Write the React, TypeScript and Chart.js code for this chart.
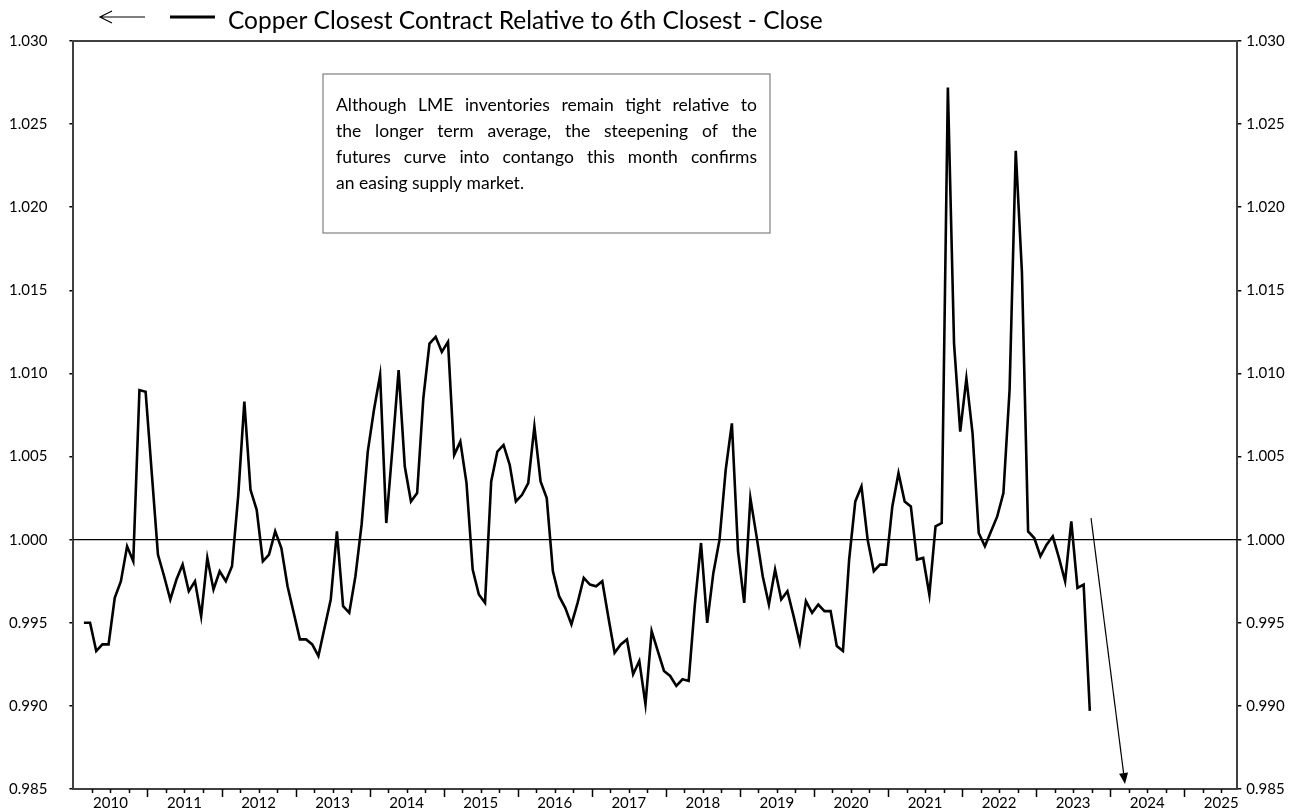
import React, { useEffect, useRef } from "react";
import { Chart, registerables } from "chart.js";

Chart.register(...registerables);

// ---------------- data ----------------
const TITLE = "Copper Closest Contract Relative to 6th Closest - Close";
const YEAR_LABELS = ["2010", "2011", "2012", "2013", "2014", "2015", "2016", "2017", "2018", "2019", "2020", "2021", "2022", "2023", "2024", "2025"];
const Y_TICKS = [0.985, 0.99, 0.995, 1.0, 1.005, 1.01, 1.015, 1.02, 1.025, 1.03];
const FIRST_POINT_MONTH = 1.7; // months after Jan 2010 of the first monthly observation
const AXIS_END_MONTH = 188.6; // months after Jan 2010 where the axis ends
const REFERENCE_LEVEL = 1.0;

// monthly observations, Feb 2010 .. Sep 2023
const COPPER_RATIO = [
  0.9950, 0.9950, 0.9933, 0.9937, 0.9937, 0.9965, 0.9975, 0.9996, 0.9987, 1.0090, 1.0089,
  1.0040, 0.9991, 0.9978, 0.9964, 0.9976, 0.9985, 0.9969, 0.9975, 0.9954, 0.9989, 0.9970, 0.9981,
  0.9975, 0.9984, 1.0026, 1.0083, 1.0030, 1.0018, 0.9987, 0.9991, 1.0005, 0.9995, 0.9972, 0.9956,
  0.9940, 0.9940, 0.9937, 0.9930, 0.9947, 0.9964, 1.0005, 0.9960, 0.9956, 0.9978, 1.0009, 1.0053,
  1.0078, 1.0099, 1.0010, 1.0055, 1.0102, 1.0044, 1.0023, 1.0028, 1.0085, 1.0118, 1.0122, 1.0113,
  1.0119, 1.0051, 1.0059, 1.0034, 0.9982, 0.9967, 0.9962, 1.0035, 1.0053, 1.0057, 1.0045, 1.0023,
  1.0027, 1.0034, 1.0068, 1.0035, 1.0025, 0.9981, 0.9966, 0.9959, 0.9949, 0.9962, 0.9977, 0.9973,
  0.9972, 0.9975, 0.9953, 0.9932, 0.9937, 0.9940, 0.9919, 0.9927, 0.9901, 0.9945, 0.9933, 0.9921,
  0.9918, 0.9912, 0.9916, 0.9915, 0.9961, 0.9998, 0.9950, 0.9980, 1.0000, 1.0042, 1.0070, 0.9993,
  0.9962, 1.0025, 1.0002, 0.9978, 0.9961, 0.9982, 0.9964, 0.9969, 0.9954, 0.9938, 0.9963, 0.9956,
  0.9961, 0.9957, 0.9957, 0.9936, 0.9933, 0.9988, 1.0023, 1.0032, 1.0000, 0.9981, 0.9985, 0.9985,
  1.0020, 1.0040, 1.0023, 1.0020, 0.9988, 0.9989, 0.9967, 1.0008, 1.0010, 1.0272, 1.0118, 1.0065,
  1.0097, 1.0064, 1.0004, 0.9996, 1.0005, 1.0014, 1.0028, 1.0090, 1.0234, 1.0161, 1.0005, 1.0001,
  0.9990, 0.9997, 1.0002, 0.9989, 0.9975, 1.0011, 0.9971, 0.9973, 0.9897,
];

const NOTE_LINES = [
  "Although LME inventories remain tight relative to",
  "the longer term average, the steepening of the",
  "futures curve into contango this month confirms",
  "an easing supply market.",
];

// trend arrow (month index, value)
const ARROW_FROM = { month: 164.9, value: 1.0013 };
const ARROW_TO = { month: 170.4, value: 0.9853 };

// ---------------- styling ----------------
const FONT = "Lato, 'Open Sans', sans-serif";
const AXIS_COLOR = "#404040";

const decorPlugin = {
  id: "decor",
  beforeDatasetsDraw(chart: any) {
    const { ctx, chartArea, scales } = chart;
    const y0 = scales.y.getPixelForValue(REFERENCE_LEVEL);
    ctx.save();
    ctx.strokeStyle = "#000";
    ctx.lineWidth = 1.2;
    ctx.beginPath();
    ctx.moveTo(chartArea.left, y0);
    ctx.lineTo(chartArea.right, y0);
    ctx.stroke();
    ctx.restore();
  },
  afterDraw(chart: any) {
    const { ctx, chartArea, scales } = chart;
    const { left, right, top, bottom } = chartArea;
    ctx.save();
    // top border
    ctx.strokeStyle = AXIS_COLOR;
    ctx.lineWidth = 2;
    ctx.beginPath();
    ctx.moveTo(left - 1, top);
    ctx.lineTo(right + 1, top);
    ctx.stroke();

    // x-axis tick marks (quarterly minor, yearly major)
    ctx.strokeStyle = "#000";
    ctx.lineWidth = 1.5;
    for (let m = 3; m < AXIS_END_MONTH; m += 3) {
      const px = Math.round(scales.x.getPixelForValue(m)) + 0.5;
      const len = m % 12 === 0 ? 8 : 4;
      ctx.beginPath();
      ctx.moveTo(px, bottom);
      ctx.lineTo(px, bottom + len);
      ctx.stroke();
    }

    // legend-style title
    ctx.strokeStyle = "#000";
    ctx.lineWidth = 1.2;
    ctx.beginPath();
    ctx.moveTo(100, 17);
    ctx.lineTo(145, 17);
    ctx.moveTo(112, 11);
    ctx.lineTo(100, 17);
    ctx.lineTo(112, 23);
    ctx.stroke();
    ctx.lineWidth = 3;
    ctx.beginPath();
    ctx.moveTo(170, 17);
    ctx.lineTo(215, 17);
    ctx.stroke();
    ctx.fillStyle = "#000";
    ctx.font = `24.5px ${FONT}`;
    ctx.textBaseline = "alphabetic";
    ctx.textAlign = "left";
    ctx.fillText(TITLE, 228, 29);

    // note box
    const bx = 323, by = 74, bw = 447, bh = 159;
    ctx.fillStyle = "#fff";
    ctx.fillRect(bx, by, bw, bh);
    ctx.strokeStyle = "#7f7f7f";
    ctx.lineWidth = 1.2;
    ctx.strokeRect(bx, by, bw, bh);
    ctx.fillStyle = "#000";
    ctx.font = `17.5px ${FONT}`;
    const textLeft = 336, textWidth = 421, lineGap = 26, firstBase = 111;
    NOTE_LINES.forEach((line, li) => {
      const yb = firstBase + li * lineGap;
      if (li === NOTE_LINES.length - 1) {
        ctx.fillText(line, textLeft, yb);
        return;
      }
      const words = line.split(" ");
      const wordsW = words.reduce((s, w) => s + ctx.measureText(w).width, 0);
      const gap = (textWidth - wordsW) / (words.length - 1);
      let cx = textLeft;
      words.forEach((w) => {
        ctx.fillText(w, cx, yb);
        cx += ctx.measureText(w).width + gap;
      });
    });

    // trend arrow
    const x1 = scales.x.getPixelForValue(ARROW_FROM.month);
    const y1 = scales.y.getPixelForValue(ARROW_FROM.value);
    const x2 = scales.x.getPixelForValue(ARROW_TO.month);
    const y2 = scales.y.getPixelForValue(ARROW_TO.value);
    const ang = Math.atan2(y2 - y1, x2 - x1);
    const headLen = 11, headW = 4.5;
    const hx = x2 - headLen * Math.cos(ang);
    const hy = y2 - headLen * Math.sin(ang);
    ctx.strokeStyle = "#000";
    ctx.lineWidth = 1.2;
    ctx.beginPath();
    ctx.moveTo(x1, y1);
    ctx.lineTo(hx, hy);
    ctx.stroke();
    ctx.fillStyle = "#000";
    ctx.beginPath();
    ctx.moveTo(x2, y2);
    ctx.lineTo(hx + headW * Math.sin(ang), hy - headW * Math.cos(ang));
    ctx.lineTo(hx - headW * Math.sin(ang), hy + headW * Math.cos(ang));
    ctx.closePath();
    ctx.fill();
    ctx.restore();
  },
};

function yAxis(position: "left" | "right", width: number, tickLen: number, pad: number) {
  return {
    type: "linear",
    position,
    min: 0.985,
    max: 1.03,
    afterBuildTicks: (s: any) => {
      s.ticks = Y_TICKS.map((v) => ({ value: v }));
    },
    afterFit: (s: any) => {
      s.width = width;
      s.paddingTop = 0;
      s.paddingBottom = 0;
    },
    ticks: {
      callback: (v: any) => Number(v).toFixed(3),
      color: "#000",
      font: { family: FONT, size: 15 },
      padding: pad,
      autoSkip: false,
    },
    grid: { drawOnChartArea: false, drawTicks: true, tickLength: tickLen, color: "#000", lineWidth: 1.5 },
    border: { display: true, color: AXIS_COLOR, width: 2 },
  };
}

export default function App() {
  const ref = useRef<HTMLCanvasElement | null>(null);

  useEffect(() => {
    document.body.style.margin = "0";
    const canvas = ref.current;
    if (!canvas) return;
    const points = COPPER_RATIO.map((v, i) => ({ x: i + FIRST_POINT_MONTH, y: v }));
    const chart = new Chart(canvas, {
      type: "line",
      data: {
        datasets: [
          {
            data: points,
            borderColor: "#000",
            borderWidth: 2.6,
            pointRadius: 0,
            tension: 0,
            fill: false,
            borderJoinStyle: "miter",
          },
        ],
      },
      options: {
        animation: false,
        responsive: false,
        maintainAspectRatio: false,
        layout: { padding: { top: 41, left: 0, right: 0, bottom: 0 } },
        plugins: { legend: { display: false }, tooltip: { enabled: false }, title: { display: false } },
        scales: {
          x: {
            type: "linear",
            min: 0,
            max: AXIS_END_MONTH,
            afterBuildTicks: (s: any) => {
              s.ticks = YEAR_LABELS.map((_, k) => ({ value: 12 * k + 6 }));
            },
            afterFit: (s: any) => {
              s.height = 21;
              s.paddingLeft = 0;
              s.paddingRight = 0;
            },
            ticks: {
              callback: (v: any) => YEAR_LABELS[Math.round((Number(v) - 6) / 12)],
              color: "#000",
              font: { family: FONT, size: 15 },
              padding: 5,
              maxRotation: 0,
              autoSkip: false,
            },
            grid: { display: false, drawTicks: false },
            border: { display: true, color: AXIS_COLOR, width: 2 },
          },
          y: yAxis("left", 73.4, 4, 22),
          y2: yAxis("right", 55.7, 4, 5),
        },
      } as any,
      plugins: [decorPlugin],
    });
    return () => chart.destroy();
  }, []);

  return (
    <div style={{ width: 1293, height: 810, background: "#fff" }}>
      <canvas ref={ref} width={1293} height={810} style={{ display: "block" }} />
    </div>
  );
}
